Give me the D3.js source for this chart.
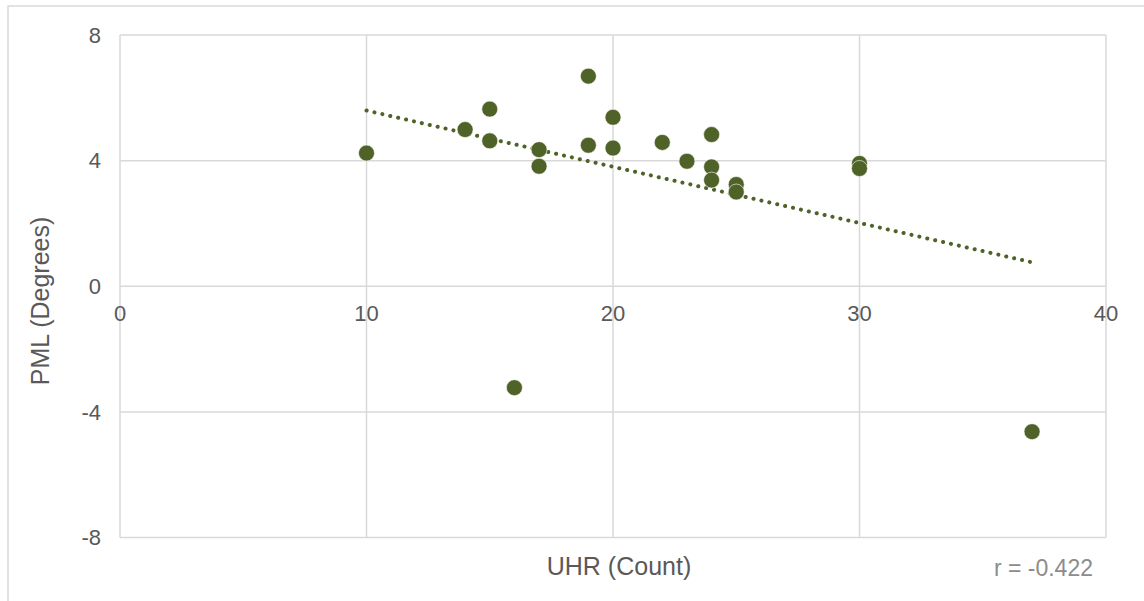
<!DOCTYPE html>
<html><head><meta charset="utf-8">
<script src="https://cdn.jsdelivr.net/npm/d3@7"></script>
<style>
html,body{margin:0;padding:0;background:#fff;}
svg{display:block;font-family:"Liberation Sans",Arial,sans-serif;}
</style></head>
<body>
<svg id="chart" width="1144" height="601"></svg>
<script>
const uhr = [10, 14, 15, 15, 16, 17, 17, 19, 19, 20, 20, 22, 23, 24, 24, 24, 25, 25, 30, 30, 37];
const pml = [4.24, 4.99, 5.64, 4.63, -3.23, 4.35, 3.82, 6.69, 4.49, 5.38, 4.40, 4.58, 3.98, 4.83, 3.80, 3.38, 3.24, 3.00, 3.91, 3.75, -4.63];
const xTicks = [0, 10, 20, 30, 40];
const yTicks = [-8, -4, 0, 4, 8];
const xTitle = "UHR (Count)";
const yTitle = "PML (Degrees)";
const rLabel = "r = -0.422";

(function(){
const svg = d3.select("#chart");
const pL = 120, pR = 1106, pT = 35, pB = 537.5;
const x = d3.scaleLinear().domain([0, 40]).range([pL, pR]);
const y = d3.scaleLinear().domain([-8, 8]).range([pB, pT]);

// outer border
svg.append("rect").attr("x", 8).attr("y", 6).attr("width", 1200).attr("height", 700)
  .attr("fill", "none").attr("stroke", "#d9d9d9").attr("stroke-width", 1.5);

const grid = svg.append("g");
grid.selectAll("line.v").data(xTicks).join("line").attr("class","v")
  .attr("x1", d => x(d)).attr("x2", d => x(d)).attr("y1", pT).attr("y2", pB)
  .attr("stroke", "#d9d9d9").attr("stroke-width", 1.5);
grid.selectAll("line.h").data(yTicks).join("line").attr("class","h")
  .attr("x1", pL).attr("x2", pR).attr("y1", d => y(d)).attr("y2", d => y(d))
  .attr("stroke", "#d9d9d9").attr("stroke-width", 1.5);

// y tick labels
svg.append("g").selectAll("text").data(yTicks).join("text")
  .attr("x", 101).attr("y", d => y(d)).attr("dy", "0.35em")
  .attr("text-anchor", "end").attr("font-size", 22).attr("fill", "#595959")
  .text(d => d);
// x tick labels
svg.append("g").selectAll("text").data(xTicks).join("text")
  .attr("x", d => x(d)).attr("y", y(0) + 27).attr("dy", "0.35em")
  .attr("text-anchor", "middle").attr("font-size", 22).attr("fill", "#595959")
  .text(d => d);

// trendline (least squares)
const n = uhr.length;
const mx = d3.mean(uhr), my = d3.mean(pml);
let sxy = 0, sxx = 0;
for (let i = 0; i < n; i++) { sxy += (uhr[i]-mx)*(pml[i]-my); sxx += (uhr[i]-mx)**2; }
const slope = sxy / sxx, icpt = my - slope * mx;
const [x0, x1] = d3.extent(uhr);
svg.append("line")
  .attr("x1", x(x0)).attr("y1", y(icpt + slope*x0))
  .attr("x2", x(x1)).attr("y2", y(icpt + slope*x1))
  .attr("stroke", "#4f6228").attr("stroke-width", 4)
  .attr("stroke-linecap", "round").attr("stroke-dasharray", "0.1 8");

// points
svg.append("g").selectAll("circle").data(uhr.map((d,i)=>[d,pml[i]])).join("circle")
  .attr("cx", d => x(d[0])).attr("cy", d => y(d[1])).attr("r", 8)
  .attr("fill", "#4f6228").attr("stroke", "#ffffff").attr("stroke-width", 0.6);

// titles
svg.append("text").attr("x", 619).attr("y", 566).attr("dy", "0.35em")
  .attr("text-anchor", "middle").attr("font-size", 25).attr("fill", "#595959").text(xTitle);
svg.append("text").attr("transform", "translate(40,301) rotate(-90)").attr("dy", "0.35em")
  .attr("text-anchor", "middle").attr("font-size", 25).attr("fill", "#595959").text(yTitle);
svg.append("text").attr("x", 1093).attr("y", 568).attr("dy", "0.35em")
  .attr("text-anchor", "end").attr("font-size", 23).attr("fill", "#8c8c8c").text(rLabel);
})();
</script>
</body></html>
